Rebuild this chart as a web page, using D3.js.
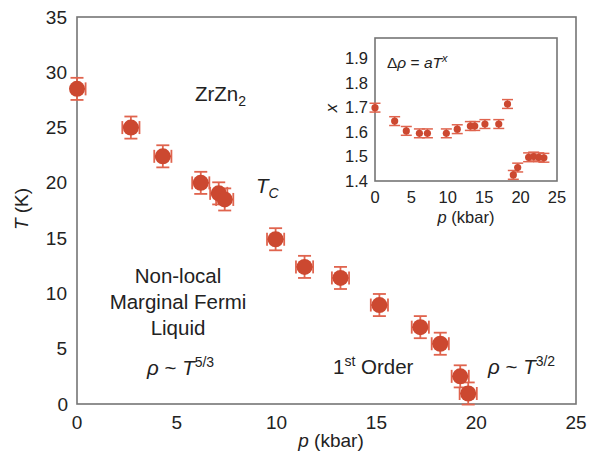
<!DOCTYPE html>
<html>
<head>
<meta charset="utf-8">
<script src="https://cdn.jsdelivr.net/npm/d3@7"></script>
<style>
  html, body { margin: 0; padding: 0; background: #fff; }
  svg { display: block; font-family: "Liberation Sans", Arial, sans-serif; }
</style>
</head>
<body>
<div id="chart"></div>
<script>
// main panel: Curie temperature vs pressure
const pressure = [0, 2.7, 4.3, 6.2, 7.1, 7.4, 9.95, 11.4, 13.2, 15.15, 17.2, 18.2, 19.2, 19.6];
const tc = [28.5, 25, 22.4, 20, 19.05, 18.5, 14.9, 12.4, 11.4, 8.95, 6.95, 5.45, 2.5, 0.95];
const tcErr = 1.0;
const pErr = 0.43;

// inset: exponent x of  Δρ = aT^x
const pInset = [0, 2.7, 4.3, 6.1, 7.2, 9.8, 11.3, 13.1, 13.7, 15.1, 17.0, 18.2, 19.0, 19.6, 21.1, 21.8, 22.5, 23.2];
const xInset = [1.70, 1.645, 1.605, 1.595, 1.595, 1.595, 1.612, 1.625, 1.625, 1.633, 1.633, 1.715, 1.425, 1.455, 1.497, 1.50, 1.497, 1.495];
const xErr = 0.018;

const mainXTicks = [0, 5, 10, 15, 20, 25];
const mainYTicks = [0, 5, 10, 15, 20, 25, 30, 35];
const insetXTicks = [0, 5, 10, 15, 20, 25];
const insetYTicks = [1.4, 1.5, 1.6, 1.7, 1.8, 1.9];

const W = 590, H = 456;
const dotColor = "#cc4830";
const barColor = "#e0644e";
const frameColor = "#757575";
const textColor = "#222";

const svg = d3.select("#chart").append("svg")
    .attr("width", W)
    .attr("height", H);

const x = d3.scaleLinear().domain([0, 25]).range([77, 576]);
const y = d3.scaleLinear().domain([0, 35]).range([404, 17]);

// frame
svg.append("rect")
    .attr("x", x(0)).attr("y", y(35))
    .attr("width", x(25) - x(0)).attr("height", y(0) - y(35))
    .attr("fill", "none").attr("stroke", frameColor).attr("stroke-width", 1.6);

// tick labels
svg.append("g").selectAll("text")
    .data(mainXTicks)
    .enter().append("text")
    .attr("x", d => x(d))
    .attr("y", 429)
    .attr("text-anchor", "middle")
    .attr("font-size", 19)
    .attr("fill", textColor)
    .text(d => d);

svg.append("g").selectAll("text")
    .data(mainYTicks)
    .enter().append("text")
    .attr("x", d => d === 0 ? 68 : 67)
    .attr("y", d => y(d) + 6.5)
    .attr("text-anchor", "end")
    .attr("font-size", 19)
    .attr("fill", textColor)
    .text(d => d);

// axis titles
const xt = svg.append("text")
    .attr("x", 331).attr("y", 447)
    .attr("text-anchor", "middle")
    .attr("font-size", 19)
    .attr("fill", textColor);
xt.append("tspan").attr("font-style", "italic").text("p");
xt.append("tspan").text(" (kbar)");

const yt = svg.append("text")
    .attr("transform", "translate(28,209) rotate(-90)")
    .attr("text-anchor", "middle")
    .attr("font-size", 19)
    .attr("fill", textColor);
yt.append("tspan").attr("font-style", "italic").text("T");
yt.append("tspan").text(" (K)");

// error bars + markers, main panel
const mainPts = pressure.map((p, i) => ({ p, t: tc[i] }));
const eb = svg.append("g")
    .attr("stroke", barColor)
    .attr("stroke-width", 1.8)
    .attr("fill", "none");
const capM = 6.5;
mainPts.forEach(d => {
    const cx = x(d.p), cy = y(d.t);
    const y1 = y(d.t + tcErr), y2 = y(d.t - tcErr);
    const x1 = x(Math.max(0, d.p - pErr)), x2 = x(d.p + pErr);
    eb.append("line").attr("x1", cx).attr("x2", cx).attr("y1", y1).attr("y2", y2);
    eb.append("line").attr("x1", cx - capM).attr("x2", cx + capM).attr("y1", y1).attr("y2", y1);
    eb.append("line").attr("x1", cx - capM).attr("x2", cx + capM).attr("y1", y2).attr("y2", y2);
    eb.append("line").attr("x1", x1).attr("x2", x2).attr("y1", cy).attr("y2", cy);
    eb.append("line").attr("x1", x2).attr("x2", x2).attr("y1", cy - capM).attr("y2", cy + capM);
    if (d.p - pErr > 0) {
        eb.append("line").attr("x1", x1).attr("x2", x1).attr("y1", cy - capM).attr("y2", cy + capM);
    }
});
svg.append("g").selectAll("circle")
    .data(mainPts)
    .enter().append("circle")
    .attr("cx", d => x(d.p))
    .attr("cy", d => y(d.t))
    .attr("r", 8)
    .attr("fill", dotColor);

// annotations
const zr = svg.append("text").attr("x", 195).attr("y", 101)
    .attr("font-size", 20.5).attr("fill", textColor);
zr.append("tspan").text("ZrZn");
zr.append("tspan").attr("font-size", 14).attr("dy", 5).text("2");

const tcl = svg.append("text").attr("x", 256).attr("y", 193)
    .attr("font-size", 20.5).attr("fill", textColor).attr("font-style", "italic");
tcl.append("tspan").text("T");
tcl.append("tspan").attr("font-size", 14).attr("dy", 5).text("C");

["Non-local", "Marginal Fermi", "Liquid"].forEach((s, i) => {
    svg.append("text")
        .attr("x", 178).attr("y", 283 + i * 26)
        .attr("text-anchor", "middle")
        .attr("font-size", 20.5).attr("fill", textColor)
        .text(s);
});

function rhoPower(xPos, yPos, pow) {
    const t = svg.append("text").attr("x", xPos).attr("y", yPos)
        .attr("font-size", 20.5).attr("fill", textColor);
    t.append("tspan").attr("font-style", "italic").text("ρ");
    t.append("tspan").text(" ~ ");
    t.append("tspan").attr("font-style", "italic").text("T");
    t.append("tspan").attr("font-size", 14).attr("dy", -8).text(pow);
}
rhoPower(147, 375, "5/3");
rhoPower(488, 374, "3/2");

const fo = svg.append("text").attr("x", 333).attr("y", 374)
    .attr("font-size", 20.5).attr("fill", textColor);
fo.append("tspan").text("1");
fo.append("tspan").attr("font-size", 14).attr("dy", -8).text("st");
fo.append("tspan").attr("dy", 8).text(" Order");

// ---- inset ----
const xi = d3.scaleLinear().domain([0, 25]).range([375, 557]);
const yi = d3.scaleLinear().domain([1.4, 1.985]).range([181, 38]);

svg.append("rect")
    .attr("x", xi(0)).attr("y", yi(1.985))
    .attr("width", xi(25) - xi(0)).attr("height", yi(1.4) - yi(1.985))
    .attr("fill", "#fff").attr("stroke", frameColor).attr("stroke-width", 1.6);

svg.append("g").selectAll("text")
    .data(insetXTicks)
    .enter().append("text")
    .attr("x", d => xi(d))
    .attr("y", 203)
    .attr("text-anchor", "middle")
    .attr("font-size", 16.5)
    .attr("fill", textColor)
    .text(d => d);

svg.append("g").selectAll("text")
    .data(insetYTicks)
    .enter().append("text")
    .attr("x", 368)
    .attr("y", d => yi(d) + 5.5)
    .attr("text-anchor", "end")
    .attr("font-size", 16.5)
    .attr("fill", textColor)
    .text(d => d.toFixed(1));

const ixt = svg.append("text")
    .attr("x", 466).attr("y", 223)
    .attr("text-anchor", "middle")
    .attr("font-size", 16.5)
    .attr("fill", textColor);
ixt.append("tspan").attr("font-style", "italic").text("p");
ixt.append("tspan").text(" (kbar)");

svg.append("text")
    .attr("transform", "translate(337,108) rotate(-90)")
    .attr("text-anchor", "middle")
    .attr("font-size", 16.5)
    .attr("font-style", "italic")
    .attr("fill", textColor)
    .text("x");

const law = svg.append("text").attr("x", 387).attr("y", 68)
    .attr("font-size", 15.5).attr("fill", textColor);
law.append("tspan").text("Δ");
law.append("tspan").attr("font-style", "italic").text("ρ");
law.append("tspan").text(" = ");
law.append("tspan").attr("font-style", "italic").text("aT");
law.append("tspan").attr("font-style", "italic").attr("font-size", 11).attr("dy", -6).text("x");

const insetPts = pInset.map((p, i) => ({ p, v: xInset[i] }));
const ieb = svg.append("g")
    .attr("stroke", barColor)
    .attr("stroke-width", 1.5)
    .attr("fill", "none");
const capI = 5.5;
insetPts.forEach(d => {
    const cx = xi(d.p);
    const y1 = yi(d.v + xErr), y2 = yi(d.v - xErr);
    ieb.append("line").attr("x1", cx).attr("x2", cx).attr("y1", y1).attr("y2", y2);
    ieb.append("line").attr("x1", cx - capI).attr("x2", cx + capI).attr("y1", y1).attr("y2", y1);
    ieb.append("line").attr("x1", cx - capI).attr("x2", cx + capI).attr("y1", y2).attr("y2", y2);
});
svg.append("g").selectAll("circle")
    .data(insetPts)
    .enter().append("circle")
    .attr("cx", d => xi(d.p))
    .attr("cy", d => yi(d.v))
    .attr("r", 3.6)
    .attr("fill", dotColor);
</script>
</body>
</html>
